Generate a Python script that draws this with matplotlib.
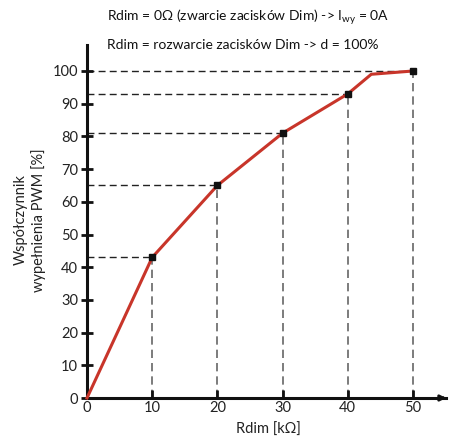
import numpy as np
import matplotlib.pyplot as plt

# data
rdim = [0, 10, 20, 30, 40, 43.6, 50]
duty = [0, 43, 65, 81, 93, 99, 100]
mark_x = [10, 20, 30, 40, 50]
mark_y = [43, 65, 81, 93, 100]
xticks = [0, 10, 20, 30, 40, 50]
yticks = [0, 10, 20, 30, 40, 50, 60, 70, 80, 90, 100]

plt.rcParams['font.family'] = ['Lato', 'DejaVu Sans']

W, H = 454, 443
fig = plt.figure(figsize=(W / 100, H / 100), dpi=100)
x0, x1 = 87, 449
y0, y1 = 398, 45
ax = fig.add_axes([x0 / W, (H - y0) / H, (x1 - x0) / W, (y0 - y1) / H])
ax.set_xlim(0, 50 * (x1 - x0) / (413 - 87))
ax.set_ylim(0, 100 * (y0 - y1) / (398 - 71))

# helper lines
for xv, yv in zip(mark_x, mark_y):
    ax.plot([0, xv], [yv, yv], color='#222222', lw=1, ls=(0, (5, 3)), zorder=1)
    ax.plot([xv, xv], [0, yv], color='#666666', lw=1.2, ls=(0, (5, 3)), zorder=1)

ax.plot(rdim, duty, color='#c8352a', lw=2.2, zorder=3, clip_on=False)
ax.plot(mark_x, mark_y, 's', color='#111111', ms=4.8, zorder=4, clip_on=False)

for s in ['top', 'right']:
    ax.spines[s].set_visible(False)
for s in ['left', 'bottom']:
    ax.spines[s].set_linewidth(2.2)
    ax.spines[s].set_color('#111111')
ax.spines['bottom'].set_bounds(0, 50 * (x1 - x0) / (413 - 87) - 0.5)
ax.annotate('', xy=(1.0, 0), xycoords='axes fraction', xytext=(0.97, 0),
            arrowprops=dict(arrowstyle='-|>', color='#111111', lw=2, mutation_scale=8))

ax.set_xticks(xticks)
ax.set_yticks(yticks)
ax.tick_params(axis='x', direction='in', length=6, width=2, labelsize=10.5, pad=2, colors='#111111')
ax.tick_params(axis='y', direction='inout', length=9, width=2, labelsize=10.5, pad=2, colors='#111111')
for lab in ax.get_xticklabels() + ax.get_yticklabels():
    lab.set_color('#222222')

ax.set_xlabel('Rdim [kΩ]', fontsize=10.5, labelpad=6, color='#222222')
fig.text(30 / W, 1 - 220 / H, 'Współczynnik\nwypełnienia PWM [%]', rotation=90,
         ha='center', va='center', fontsize=10.5, color='#222222', linespacing=1.3)

fig.text(107 / W, 1 - 17 / H, r'Rdim = 0Ω (zwarcie zacisków Dim) -> I$_{\mathregular{wy}}$ = 0A',
         ha='left', va='center', fontsize=10, color='#111111')
fig.text(107 / W, 1 - 45 / H, 'Rdim = rozwarcie zacisków Dim -> d = 100%',
         ha='left', va='center', fontsize=10, color='#111111')

fig.savefig('out.png', dpi=100)
